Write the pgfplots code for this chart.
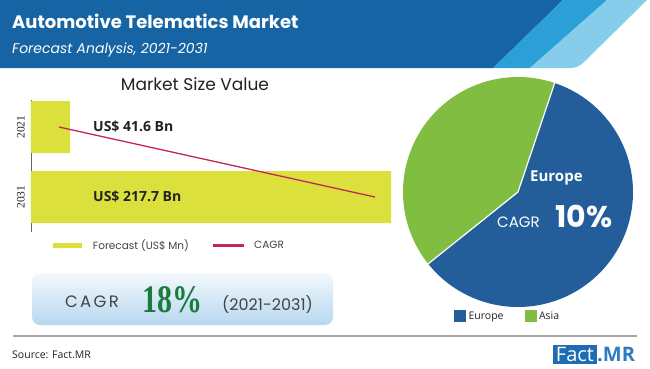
\documentclass[border=0pt]{standalone}
\usepackage{pgfplots}
\pgfplotsset{compat=1.18}
\usepackage{fontspec}
\usepackage{graphicx}
\setmainfont{Open Sans}
\newfontfamily\pop{Poppins}
\newfontfamily\popls{Poppins}[LetterSpace=14]
\newfontfamily\tms{Liberation Serif}
\definecolor{hdark}{HTML}{1664A3}
\definecolor{hmid}{HTML}{2B9FD7}
\definecolor{hlight}{HTML}{85CDEA}
\definecolor{barcol}{HTML}{DCE03D}
\definecolor{cagrline}{HTML}{C8245C}
\definecolor{piblue}{HTML}{245E9A}
\definecolor{pigreen}{HTML}{80BD41}
\definecolor{green18}{HTML}{1B7B3D}
\definecolor{boxtop}{HTML}{F3F9FD}
\definecolor{boxbot}{HTML}{B7D7EF}
\definecolor{logoblue}{HTML}{1E6DB3}
\definecolor{mrblue}{HTML}{2D7BC3}
\definecolor{txt}{HTML}{222222}
\newcommand{\fs}[1]{\fontsize{#1}{#1}\selectfont}
% pie data (share of market, %)
\def\europeShare{59.1}
\def\asiaShare{40.9}
\begin{document}
\begin{tikzpicture}
\pgfmathsetmacro\asiaStart{71.4}
\pgfmathsetmacro\asiaEnd{\asiaStart+3.6*\asiaShare}
\pgfmathsetmacro\europeEnd{\asiaEnd+3.6*\europeShare}
\begin{scope}[x=1pt,y=-1pt]
\fill[white] (0,0) rectangle (650,368);
% header
\fill[hdark] (0,0) -- (563,0) -- (493,68) -- (0,68) -- cycle;
\fill[hmid] (563,0) -- (607,0) -- (530,68) -- (493,68) -- cycle;
\fill[hlight] (607,0) -- (647,0) -- (585,61) .. controls (580,66) and (577,68) .. (570,68) -- (530,68) -- cycle;
\node[anchor=base west, text=white, font=\pop\bfseries\fs{18}, inner sep=0pt] at (12,28.3) {Automotive Telematics Market};
\node[anchor=base west, text=white, font=\pop\itshape\fs{14}, inner sep=0pt] at (12,53) {Forecast Analysis, 2021-2031};
\node[anchor=base, text=txt, font=\pop\fs{17}, inner sep=0pt] at (195,90) {Market Size Value};
\coordinate (barSW) at (31,232);
\coordinate (pc) at (518,192);
% CAGR box
\shade[rounded corners=8pt, top color=boxtop, bottom color=boxbot] (32,273) rectangle (333,325);
\node[anchor=base west, inner sep=0pt, text=txt!85, font=\popls\fs{16.5}] at (65,307) {CAGR};
\node[anchor=base west, inner sep=0pt, text=green18, font=\tms\bfseries\fs{39}] at (142,312) {\scalebox{0.77}[1]{18\%}};
\node[anchor=base west, inner sep=0pt, text=txt!85, font=\pop\fs{16}] at (222,310) {(2021-2031)};
\draw[black!35, line width=1.5pt] (13,336) -- (637,336);
\node[anchor=base west, inner sep=0pt, text=txt, font=\fs{10.5}] at (12,358) {Source: Fact.MR};
\fill[logoblue] (553,345) rectangle (597,364);
\node[anchor=base, inner sep=0pt, text=white, font=\fs{20}] at (575,361) {Fact};
\node[anchor=base west, inner sep=0pt, text=mrblue, font=\bfseries\fs{20}] at (597,361) {.MR};
\end{scope}

\begin{axis}[
  at={(barSW)}, anchor=south west, scale only axis,
  width=360pt, height=132pt,
  xmin=20.2, xmax=217.7, ymin=-0.386, ymax=1.5, y dir=reverse,
  axis x line=none, axis y line*=left,
  y axis line style={draw=black!60, line width=0.8pt},
  ytick={0,1}, yticklabels={2021,2031},
  major tick length=0pt,
  yticklabel style={rotate=90, anchor=south, inner sep=0pt, font=\tms\fs{11.5}, text=txt},
  yticklabel shift=6pt,
  legend columns=2,
  legend style={at={(0.0611,-0.1023)}, anchor=west, draw=none, fill=none, inner sep=0pt, outer sep=0pt, column sep=0pt, font=\pop\fs{10.5}, text=txt!85, nodes={inner sep=0pt}},
]
\addplot[xbar, bar width=52pt, fill=barcol, draw=none,
  legend image code/.code={\fill[barcol] (0pt,-2.5pt) rectangle (29pt,2.5pt); \path (40pt,0pt);}]
  coordinates {(41.6,0) (217.7,1)};
\addlegendentry{Forecast (US\$ Mn)\hspace*{24pt}}
\addplot[cagrline, line width=1.3pt, mark=none,
  legend image code/.code={\fill[cagrline] (0pt,-1.1pt) rectangle (30pt,1.1pt); \path (40pt,0pt);}]
  coordinates {(35.6,0) (208.9,1)};
\addlegendentry{CAGR}
\node[anchor=west, inner sep=0pt, font=\bfseries\fs{14}, text=txt] at (axis cs:54.2,0) {US\$ 41.6 Bn};
\node[anchor=west, inner sep=0pt, font=\bfseries\fs{14}, text=txt] at (axis cs:54.2,1) {US\$ 217.7 Bn};
\end{axis}

\begin{axis}[at={(pc)}, anchor=center, scale only axis, width=240pt, height=240pt,
  xmin=-1, xmax=1, ymin=-1, ymax=1, hide axis, clip=false,
  legend columns=2,
  legend style={at={(0.2333,-0.0167)}, anchor=west, draw=none, fill=none, inner sep=0pt, column sep=0pt, font=\fs{10.5}, text=txt, nodes={inner sep=0pt}}]
\addlegendimage{legend image code/.code={\fill[piblue] (0pt,-5.5pt) rectangle (11pt,5.5pt); \path (14pt,0pt);}}
\addlegendentry{Europe\hspace*{21pt}}
\addlegendimage{legend image code/.code={\fill[pigreen] (0pt,-5.5pt) rectangle (11pt,5.5pt); \path (14pt,0pt);}}
\addlegendentry{Asia}
\fill[pigreen] (axis cs:0,0) -- ++(\asiaStart:115pt) arc[start angle=\asiaStart, end angle=\asiaEnd, radius=115pt] -- cycle;
\fill[piblue] (axis cs:0,0) -- ++(\asiaEnd:115pt) arc[start angle=\asiaEnd, end angle=\europeEnd, radius=115pt] -- cycle;
\draw[white, line width=1.2pt] (axis cs:0,0) -- ++(\asiaStart:116pt) (axis cs:0,0) -- ++(\asiaEnd:116pt);
\end{axis}

\begin{scope}[x=1pt,y=-1pt]
\node[anchor=base west, inner sep=0pt, text=white, font=\bfseries\fs{15}] at (530,181.7) {Europe};
\node[anchor=base west, inner sep=0pt, text=white, font=\pop\fs{15}] at (497,227) {CAGR};
\node[anchor=base west, inner sep=0pt, text=white, font=\pop\bfseries\fs{30}] at (555,227) {10\%};
\end{scope}
\end{tikzpicture}
\end{document}
